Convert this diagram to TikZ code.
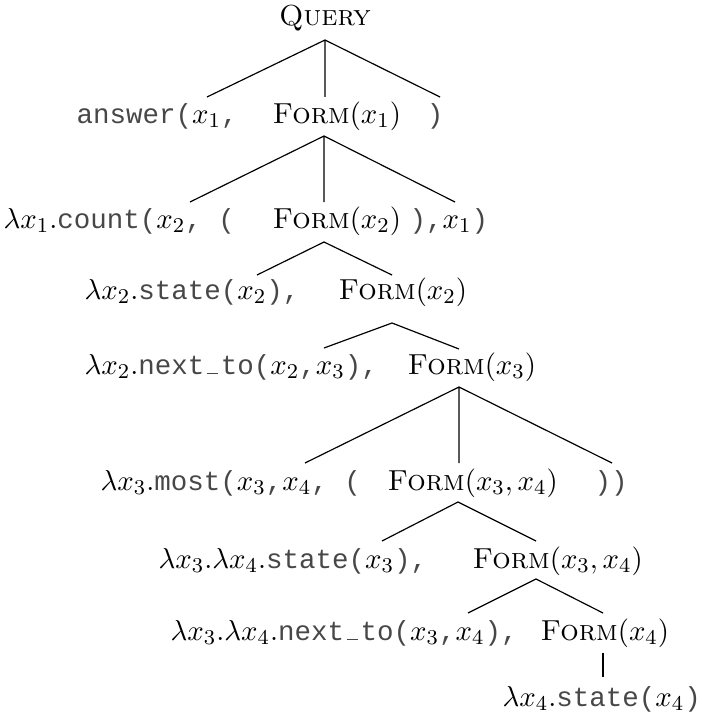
\documentclass[tikz,border=0pt]{standalone}
\usepackage[no-math]{fontspec}
\setmonofont[Scale=0.95]{Liberation Mono}
\newcommand\Form{\textsc{Form}}
\newcommand\Query{\textsc{Query}}
% typewriter underscore sitting on the baseline
\newcommand\tus{\makebox[0.6em]{\rule{0.42em}{0.05em}}}
% typewriter pieces of the formulas
\newcommand\tw[1]{\textcolor{black!72}{\texttt{#1}}}
\begin{document}
\begin{tikzpicture}[x=0.38pt,y=-0.38pt,
  font=\fontsize{11}{13.6}\selectfont,
  lbl/.style={inner sep=0pt,anchor=base west},
  ctr/.style={inner sep=0pt,anchor=base},
  edge/.style={line width=0.45pt}]
\useasboundingbox (0,0) rectangle (701,713);

% ---- labels, row by row (baselines measured top-down) ----
\node[ctr] (q) at (325,26) {\Query};

\node[lbl] (r2a) at (76,123)  {\tw{answer(}$x_1$\tw{,}};
\node[lbl] (r2b) at (272,123) {\Form$(x_1)$};
\node[ctr] (r2c) at (435,123) {\tw{)}};

\node[lbl] (r3a) at (3,228)   {$\lambda x_1.$\tw{count(}$x_2$\tw{, (}};
\node[lbl] (r3b) at (272,228) {\Form$(x_2)$};
\node[lbl] (r3c) at (409,228) {\tw{),}$x_1$\tw{)}};

\node[lbl] (r4a) at (84,299) {$\lambda x_2.$\tw{state(}$x_2$\tw{),}};
\node[lbl] (r4b) at (338,299) {\Form$(x_2)$};

\node[lbl] (r5a) at (84,374) {$\lambda x_2.$\tw{next\tus to(}$x_2$\tw{,}$x_3$\tw{),}};
\node[lbl] (r5b) at (407,374) {\Form$(x_3)$};

\node[lbl] (r6a) at (100,490) {$\lambda x_3.$\tw{most(}$x_3$\tw{,}$x_4$\tw{, (}};
\node[lbl] (r6b) at (387,490) {\Form$(x_3,x_4)$};
\node[lbl] (r6c) at (594,490) {\tw{))}};

\node[lbl] (r7a) at (158,568) {$\lambda x_3.\lambda x_4.$\tw{state(}$x_3$\tw{),}};
\node[lbl] (r7b) at (472,568) {\Form$(x_3,x_4)$};

\node[lbl] (r8a) at (170,640) {$\lambda x_3.\lambda x_4.$\tw{next\tus to(}$x_3$\tw{,}$x_4$\tw{),}};
\node[lbl] (r8b) at (540,640) {\Form$(x_4)$};

\node[lbl] (r9a) at (502,706) {$\lambda x_4.$\tw{state(}$x_4$\tw{)}};

% ---- branch points ----
\coordinate (q-s)  at (325,40);
\coordinate (r2a-n) at (207,97);
\coordinate (r2b-n) at (325,97);
\coordinate (r2c-n) at (440,97);

\coordinate (r2b-s) at (324,136);
\coordinate (r3a-n) at (190,202);
\coordinate (r3b-n) at (324,202);
\coordinate (r3c-n) at (455,202);

\coordinate (r3b-s) at (324,242);
\coordinate (r4a-n) at (257,275);
\coordinate (r4b-n) at (392,275);

\coordinate (r4b-s) at (392,323);
\coordinate (r5a-n) at (324,348);
\coordinate (r5b-n) at (459,349);

\coordinate (r5b-s) at (459,387);
\coordinate (r6a-n) at (305,463);
\coordinate (r6b-n) at (459,463);
\coordinate (r6c-n) at (612,463);

\coordinate (r6b-s) at (458,502);
\coordinate (r7a-n) at (382,541);
\coordinate (r7b-n) at (536,541);

\coordinate (r7b-s) at (536,579);
\coordinate (r8a-n) at (468,613);
\coordinate (r8b-n) at (603,613);

\coordinate (r8b-s) at (603,653);
\coordinate (r9a-n) at (603,677);

% ---- branches ----
\draw[edge] (r2a-n) -- (q-s) -- (r2c-n) (q-s) -- (r2b-n);
\draw[edge] (r3a-n) -- (r2b-s) -- (r3c-n) (r2b-s) -- (r3b-n);
\draw[edge] (r4a-n) -- (r3b-s) -- (r4b-n);
\draw[edge] (r5a-n) -- (r4b-s) -- (r5b-n);
\draw[edge] (r6a-n) -- (r5b-s) -- (r6c-n) (r5b-s) -- (r6b-n);
\draw[edge] (r7a-n) -- (r6b-s) -- (r7b-n);
\draw[edge] (r8a-n) -- (r7b-s) -- (r8b-n);
\draw[edge] (r8b-s) -- (r9a-n);
\end{tikzpicture}
\end{document}
